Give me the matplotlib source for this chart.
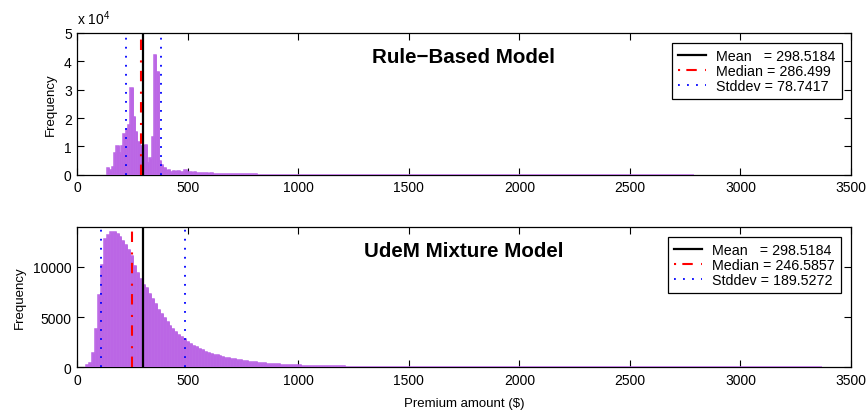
import numpy as np
import matplotlib
matplotlib.use("Agg")
import matplotlib.pyplot as plt
from matplotlib.lines import Line2D

plt.rcParams['font.family'] = ['Liberation Sans', 'DejaVu Sans']
plt.rcParams['mathtext.fontset'] = 'custom'
plt.rcParams['mathtext.rm'] = 'Liberation Sans'
plt.rcParams['mathtext.default'] = 'regular'

# ---------------- data ----------------
# Rule-based model histogram: 250 bins
rule_start = 134.0
rule_width = 10.63
rule_counts = [
    2250, 1700, 2600, 7650, 10300, 7650, 10300, 14400, 16100, 17500,
    30500, 20200, 14900, 11400, 10300, 10000, 10500, 4100, 5800, 13200,
    42400, 36400, 4900, 3400, 2200, 1200, 1600, 1100, 1300, 900,
    1300, 850, 1000, 1650, 1000, 800, 650, 1000, 700, 550,
    600, 450, 500, 400, 550,
    350, 300, 350, 250, 300, 250, 200, 250, 200, 200,
    150, 150, 120, 130, 100, 100, 90, 80, 80, 70,
    60, 60, 50, 50, 45, 40, 40, 35, 30, 30,
    28, 26, 25, 24, 22, 21, 20, 19, 18, 17,
    16, 15, 15, 14, 13, 13, 12, 12, 11, 11,
    10, 10, 9, 9, 9, 8, 8, 8, 7, 7,
    7, 6, 6, 6, 6, 5, 5, 5, 5, 5,
    4, 4, 4, 4, 4, 4, 3, 3, 3, 3,
    3, 3, 3, 3, 2, 2, 2, 2, 2, 2,
    2, 2, 2, 2, 2, 1, 2, 1, 1, 2,
    1, 1, 1, 1, 1, 1, 1, 1, 1, 1,
    1, 1, 0, 1, 1, 1, 0, 1, 1, 0,
    1, 0, 1, 0, 1, 1, 0, 0, 1, 0,
    1, 0, 0, 1, 0, 1, 0, 0, 1, 0,
    0, 1, 0, 0, 0, 1, 0, 0, 1, 0,
    0, 0, 1, 0, 0, 0, 1, 0, 0, 0,
    1, 0, 0, 0, 0, 1, 0, 0, 0, 0,
    0, 1, 0, 0, 0, 0, 0, 1, 0, 0,
    0, 0, 0, 0, 1, 0, 0, 0, 0, 0,
    0, 1, 0, 0, 0, 0, 0, 0, 0, 0,
    0, 0, 0, 0, 1,
]
rule_mean = 298.5184
rule_median = 286.499
rule_std = 78.7417

# UdeM mixture model histogram: 250 bins
mix_start = 40.0
mix_width = 13.31
mix_counts = [
    260, 450, 1400, 3800, 7150, 10200, 12800, 13200, 13500, 13450,
    13230, 12950, 12600, 12150, 11700, 11080, 10100, 9400, 8780, 8200,
    7850, 7280, 6850, 6300, 5750, 5350, 4950, 4550, 4150, 3850,
    3550, 3250, 3000, 2800, 2550, 2350, 2150, 1980, 1820, 1680,
    1560, 1450, 1350, 1260, 1180, 1100, 1030, 970, 910, 850,
    800, 750, 700, 650, 600, 560, 520, 485, 450, 420,
    390, 365, 340, 318, 298, 280, 262, 246, 232, 218,
    205,
    193, 182, 172, 162, 153, 145, 137, 130, 123, 117,
    111, 105, 100, 95, 90, 86, 82, 78, 74, 71,
    68, 65, 62, 59, 56, 54, 52, 50, 48, 46,
    44, 42, 40, 38, 37, 35, 34, 32, 31, 30,
    29, 28, 27, 26, 25, 24, 23, 22, 21, 20,
    19, 19, 18, 17, 17, 16, 15, 15, 14, 14,
    13, 13, 12, 12, 11, 11, 11, 10, 10, 9,
    9, 9, 8, 8, 8, 7, 7, 7, 6, 6,
    6, 6, 6, 5, 5, 5, 5, 4, 4, 4,
    4, 4, 4, 3, 3, 3, 3, 3, 3, 3,
    2, 2, 2, 2, 2, 2, 2, 2, 2, 2,
    2, 1, 1, 2, 1, 1, 1, 2, 1, 1,
    1, 1, 1, 1, 1, 1, 1, 0, 1, 1,
    1, 0, 1, 1, 0, 1, 0, 1, 0, 1,
    0, 1, 0, 0, 1, 0, 1, 0, 0, 1,
    0, 0, 1, 0, 0, 1, 0, 0, 0, 1,
    0, 0, 0, 1, 0, 0, 0, 0, 1, 0,
    0, 0, 0, 1, 0, 0, 0, 0, 1,
]
mix_mean = 298.5184
mix_median = 246.5857
mix_std = 189.5272

x_ticks = [0, 500, 1000, 1500, 2000, 2500, 3000, 3500]
rule_yticks = [0, 10000, 20000, 30000, 40000, 50000]
rule_yticklabels = ['0', '1', '2', '3', '4', '5']
mix_yticks = [0, 5000, 10000]

# ---------------- styling ----------------
BAR = '#bb66e5'
W, H = 868, 414
fig = plt.figure(figsize=(W / 100, H / 100), dpi=100)

left = 77.3 / W
width = 773.7 / W
ax1 = fig.add_axes([left, 1 - 175.7 / H, width, 141.7 / H])
ax2 = fig.add_axes([left, 1 - 368.3 / H, width, 140.6 / H])


def fmt(v):
    return ('%.4f' % v).rstrip('0').rstrip('.')


def draw(ax, start, bw, counts, mean, median, std, ylim, title, tpos, legpos):
    counts = np.asarray(counts, dtype=float)
    edges = start + bw * np.arange(len(counts) + 1)
    ax.bar(edges[:-1], counts, width=bw, align='edge', color=BAR,
           edgecolor=BAR, linewidth=0.5, zorder=3)
    ax.stairs(counts, edges, baseline=0, fill=False, color=BAR, lw=1.1, zorder=3.5)
    ax.axvline(mean, color='black', lw=1.6, zorder=5)
    ax.axvline(median, color='red', lw=1.5, linestyle=(0, (5, 4, 1, 5)), zorder=5)
    ax.axvline(mean - std, color='blue', lw=1.3, linestyle=(0, (1, 4)), zorder=5)
    ax.axvline(mean + std, color='blue', lw=1.3, linestyle=(0, (1, 4)), zorder=5)
    ax.set_xlim(0, 3500)
    ax.set_ylim(0, ylim)
    ax.set_xticks(x_ticks)
    ax.tick_params(direction='in', top=True, right=True, length=5, width=0.8,
                   labelsize=10, pad=4, colors='black')
    for s in ax.spines.values():
        s.set_linewidth(0.9)
        s.set_zorder(2.5)
    ax.text(tpos[0], tpos[1], title, transform=ax.transAxes, ha='left',
            va='baseline', fontsize=14.8, fontweight='bold')
    handles = [
        Line2D([], [], color='black', lw=1.6),
        Line2D([], [], color='red', lw=1.5, linestyle=(0, (1, 3, 5, 4))),
        Line2D([], [], color='blue', lw=1.3, linestyle=(0, (1, 4))),
    ]
    labels = ['Mean   = %s' % fmt(mean),
              'Median = %s' % fmt(median),
              'Stddev = %s' % fmt(std)]
    leg = ax.legend(handles, labels, loc='upper right', bbox_to_anchor=legpos,
                    borderaxespad=0, fontsize=10.3, frameon=True, fancybox=False,
                    framealpha=1, edgecolor='black', labelspacing=0.05,
                    borderpad=0.42, handlelength=1.95, handletextpad=0.7)
    leg.get_frame().set_linewidth(0.9)
    leg.set_zorder(10)
    ax.set_ylabel('Frequency', fontsize=9.5, labelpad=5)


draw(ax1, rule_start, rule_width, rule_counts, rule_mean, rule_median, rule_std,
     50000, 'Rule\u2212Based Model', (0.381, 0.792), (0.988, 0.927))
ax1.set_yticks(rule_yticks)
ax1.set_yticklabels(rule_yticklabels)
ax1.text(0.0, 1.064, r'x 10$^{4}$', transform=ax1.transAxes, ha='left',
         va='baseline', fontsize=10)

draw(ax2, mix_start, mix_width, mix_counts, mix_mean, mix_median, mix_std,
     14000, 'UdeM Mixture Model', (0.371, 0.794), (0.987, 0.925))
ax2.set_yticks(mix_yticks)
ax2.set_xlabel('Premium amount ($)', fontsize=9.5, labelpad=7)

fig.savefig('out.png', dpi=100)
